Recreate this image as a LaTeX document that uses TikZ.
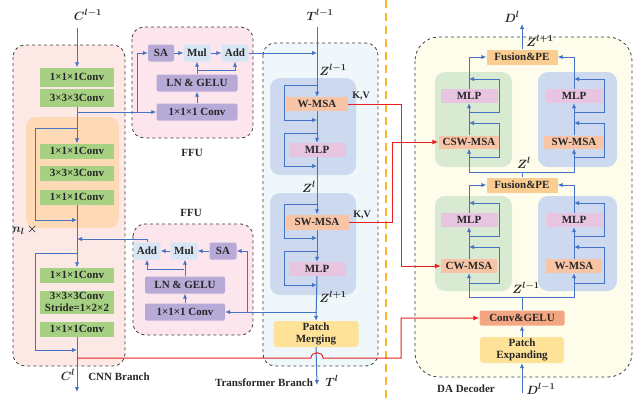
\documentclass[tikz,border=0pt]{standalone}
\usepackage{fontspec}
\setmainfont{Liberation Serif}
\usetikzlibrary{arrows.meta}

\definecolor{txt}{RGB}{38,38,38}
\definecolor{convgreen}{RGB}{166,208,130}
\definecolor{cnnbg}{RGB}{252,233,230}
\definecolor{nbg}{RGB}{253,217,181}
\definecolor{ffubg}{RGB}{252,229,237}
\definecolor{sapurple}{RGB}{183,170,215}
\definecolor{mulblue}{RGB}{214,230,244}
\definecolor{trbg}{RGB}{239,247,251}
\definecolor{blockblue}{RGB}{204,217,238}
\definecolor{msaorange}{RGB}{248,196,166}
\definecolor{mlppink}{RGB}{231,196,223}
\definecolor{patchyellow}{RGB}{254,226,152}
\definecolor{decbg}{RGB}{254,253,236}
\definecolor{greenblock}{RGB}{217,234,211}
\definecolor{fusionorange}{RGB}{250,205,146}
\definecolor{convgelu}{RGB}{244,166,130}
\definecolor{arrowblue}{RGB}{68,114,196}
\definecolor{linered}{RGB}{232,32,32}
\definecolor{splitorange}{RGB}{250,182,40}
\definecolor{dashgray}{RGB}{60,60,60}

\begin{document}
\begin{tikzpicture}[x=1pt,y=-1pt,
  every node/.style={font=\fontsize{11}{11.5}\selectfont\bfseries, text=txt, inner sep=0pt},
  blk/.style={minimum height=15pt},
  conv/.style={blk, fill=convgreen, minimum width=74pt},
  pur/.style={fill=sapurple, rounded corners=2pt, minimum height=17pt},
  lblu/.style={fill=mulblue, rounded corners=2pt, minimum height=17pt, minimum width=27pt},
  msa/.style={blk, fill=msaorange},
  mlp/.style={fill=mlppink, minimum height=14pt, minimum width=57pt},
  ylw/.style={fill=patchyellow, rounded corners=3pt, minimum width=85pt, minimum height=26pt, align=center},
  fus/.style={blk, fill=fusionorange, minimum width=71pt},
  arr/.style={arrowblue, line width=1pt, -{Latex[length=5pt,width=4.5pt]}},
  bline/.style={arrowblue, line width=1pt},
  redarr/.style={linered, line width=1pt, -{Latex[length=6pt,width=5pt]}},
  dbox/.style={draw=dashgray, dashed, line width=0.8pt, rounded corners=12pt},
  lbl/.style={font=\fontsize{12.5}{13}\selectfont\boldmath},
  kv/.style={font=\fontsize{10}{10}\selectfont\bfseries}
]
\useasboundingbox (0,0) rectangle (635,400);

\draw[dbox, fill=cnnbg] (13,45) rectangle (125,366);
\fill[nbg, rounded corners=10pt] (26,117) rectangle (119,228);
\draw[dbox, fill=ffubg] (132,27) rectangle (253,138);
\draw[dbox, fill=ffubg] (133,224) rectangle (253,335);
\draw[dbox, fill=trbg] (263,43) rectangle (378,366);
\fill[blockblue, rounded corners=10pt] (270,78) rectangle (356,175);
\fill[blockblue, rounded corners=10pt] (270,193) rectangle (356,295);
\draw[dbox, fill=decbg, rounded corners=24pt] (415,37) rectangle (632,377);
\fill[greenblock, rounded corners=10pt] (435,72) rectangle (512,167);
\fill[blockblue, rounded corners=10pt] (538,72) rectangle (617,167);
\fill[greenblock, rounded corners=10pt] (435,196) rectangle (512,291);
\fill[blockblue, rounded corners=10pt] (538,196) rectangle (617,291);
\draw[splitorange, line width=1.6pt, dash pattern=on 8pt off 5pt] (386,0) -- (386,400);

% CNN branch
\node[lbl] (cin) at (88,15) {$C^{l-1}$};
\coordinate (cint) at (77,28);
\node[conv, minimum height=19pt] (c1) at (77,77) {1×1×1Conv};
\node[conv, minimum height=18pt] (c2) at (77,98) {3×3×3Conv};
\node[conv] (n1) at (77,151) {1×1×1Conv};
\node[conv] (n2) at (77,173) {3×3×3Conv};
\node[conv] (n3) at (77,197) {1×1×1Conv};
\node[conv] (c3) at (77,275) {1×1×1Conv};
\node[conv, minimum height=23pt, align=center] (c4) at (77,302) {3×3×3Conv\\Stride=1×2×2};
\node[conv] (c5) at (77,329) {1×1×1Conv};
\node[lbl] (nl) at (25,230) {$n_l\,{\times}$};
\node[lbl] (cout) at (68,375) {$C^{l}$};
\node (cnn) at (119,377) {CNN Branch};
\coordinate (b1) at (77,112);
\coordinate (f1) at (137,112);
\coordinate (s1a) at (77,128);
\coordinate (s1b) at (77,220);
\coordinate (j2) at (77,239);
\coordinate (s2a) at (77,253);
\coordinate (s2b) at (77,350);
\coordinate (ce) at (77,392);
\coordinate (rc) at (77,358);

\draw[arr] (cint) -- (c1.north);
\draw[arr] (c2.south) -- (n1.north);
\draw[arr] (s1a) -- ++(-42,0) |- (s1b);
\draw[arr] (n3.south) -- (c3.north);
\draw[arr] (s2a) -- ++(-42,0) |- (s2b);
\draw[arr] (c5.south) -- (ce);

% FFU (top)
\node[pur, minimum width=26pt] (sa1) at (161,53) {SA};
\node[lblu] (mul1) at (197,53) {Mul};
\node[lblu] (add1) at (235,53) {Add};
\node[pur, minimum width=81pt] (ln1) at (197,83) {LN \& GELU};
\node[pur, minimum width=81pt] (cv1) at (197,112) {1×1×1 Conv};
\node (ffu1) at (192,153) {FFU};
\coordinate (g1) at (197,70);
\coordinate (t1) at (317,53);
\draw[arr] (b1) -- (cv1.west);
\draw[arr] (f1) |- (sa1.west);
\draw[arr] (cv1.north) -- (ln1.south);
\draw[arr] (ln1.north) -- (mul1.south);
\draw[arr] (g1) -| (add1.south);
\draw[arr] (sa1.east) -- (mul1.west);
\draw[arr] (mul1.east) -- (add1.west);
\draw[arr] (add1.east) -- (t1);

% FFU (bottom)
\node (ffu2) at (191,213) {FFU};
\node[lblu] (add2) at (147,251) {Add};
\node[lblu] (mul2) at (184,251) {Mul};
\node[pur, minimum width=27pt] (sa2) at (223,251) {SA};
\node[pur, minimum width=80pt] (ln2) at (185,285) {LN \& GELU};
\node[pur, minimum width=80pt] (cv2) at (185,312) {1×1×1 Conv};
\coordinate (t3) at (317,312);
\coordinate (f2) at (247,312);
\coordinate (g2) at (184,269);
\draw[arr] (t3) -- (cv2.east);
\draw[arr] (f2) |- (sa2.east);
\draw[arr] (cv2.north) -- (ln2.south);
\draw[arr] (ln2.north) -- (ln2.north |- mul2.south);
\draw[arr] (g2) -| (add2.south);
\draw[arr] (sa2.west) -- (mul2.east);
\draw[arr] (mul2.west) -- (add2.east);
\draw[arr] (add2.north) |- (j2);

% Transformer branch
\node[lbl] (tin) at (320,15) {$T^{l-1}$};
\coordinate (tt) at (317,27);
\node[lbl] (z0) at (333,70) {$Z^{l-1}$};
\node[msa, minimum width=62pt, minimum height=14pt] (wm1) at (317,104) {W-MSA};
\node[kv] (kv1) at (361,96) {K,V};
\node[mlp] (mp1) at (317,150) {MLP};
\node[lbl] (z1) at (309,187) {$Z^{l}$};
\node[msa, minimum width=63pt] (sw1) at (317,222) {SW-MSA};
\node[kv] (kv2) at (362,215) {K,V};
\node[mlp] (mp2) at (317,269) {MLP};
\node[lbl] (z2) at (333,297) {$Z^{l+1}$};
\node[ylw] (pm) at (316,334) {Patch\\Merging};
\node[lbl] (tout) at (332,381) {$T^{l}$};
\node (tr) at (264,383) {Transformer Branch};
\coordinate (k1a) at (317,85);
\coordinate (k1b) at (317,120);
\coordinate (k2a) at (317,133);
\coordinate (k2b) at (317,166);
\coordinate (k3a) at (317,204);
\coordinate (k3b) at (317,238);
\coordinate (k4a) at (317,251);
\coordinate (k4b) at (317,285);
\coordinate (te) at (317,385);
\draw[arr] (tt) -- (wm1.north);
\draw[arr] (k1a) -- ++(-33,0) |- (k1b);
\draw[arr] (wm1.south) -- (mp1.north);
\draw[arr] (k2a) -- ++(-33,0) |- (k2b);
\draw[arr] (mp1.south) -- (sw1.north);
\draw[arr] (k3a) -- ++(-33,0) |- (k3b);
\draw[arr] (sw1.south) -- (mp2.north);
\draw[arr] (k4a) -- ++(-33,0) |- (k4b);
\draw[arr] (mp2.south) -- (pm.north);
\draw[arr] (pm.south) -- (te);

% DA decoder
\node[lbl] (dout) at (512,17) {$D^{l}$};
\coordinate (de) at (522,24);
\node[lbl] (z5) at (540,41) {$Z^{l+1}$};
\node[fus] (fus1) at (522,57) {Fusion\&PE};
\node[mlp] (mpa) at (469,96) {MLP};
\node[msa, minimum width=61pt, minimum height=13pt] (csw) at (469,142) {CSW-MSA};
\node[mlp] (mpb) at (574,96) {MLP};
\node[msa, minimum width=61pt, minimum height=13pt] (sw2) at (574,142) {SW-MSA};
\node[lbl] (z4) at (524,163) {$Z^{l}$};
\node[fus] (fus2) at (522,185) {Fusion\&PE};
\node[mlp] (mpc) at (469,220) {MLP};
\node[msa, minimum width=56pt, minimum height=14pt] (cw) at (469,266) {CW-MSA};
\node[mlp] (mpd) at (574,220) {MLP};
\node[msa, minimum width=56pt, minimum height=14pt] (wm2) at (574,266) {W-MSA};
\node[lbl] (z3) at (526,288) {$Z^{l-1}$};
\node[blk, fill=convgelu, rounded corners=2pt, minimum width=85pt] (cg) at (522,318) {Conv\&GELU};
\node[ylw, minimum width=84pt] (pe) at (522,350) {Patch\\Expanding};
\node[lbl] (din) at (541,389) {$D^{l-1}$};
\node (dec) at (466,389) {DA Decoder};
\coordinate (ds) at (522,393);
\coordinate (jz) at (522,297);
\coordinate (jl) at (522,172);
\coordinate (d1a) at (469,283);
\coordinate (d1b) at (469,247);
\coordinate (d2a) at (469,236);
\coordinate (d2b) at (469,203);
\coordinate (d3a) at (574,283);
\coordinate (d3b) at (574,247);
\coordinate (d4a) at (574,236);
\coordinate (d4b) at (574,203);
\coordinate (d5a) at (469,157);
\coordinate (d5b) at (469,123);
\coordinate (d6a) at (469,112);
\coordinate (d6b) at (469,79);
\coordinate (d7a) at (574,157);
\coordinate (d7b) at (574,123);
\coordinate (d8a) at (574,112);
\coordinate (d8b) at (574,79);
\draw[arr] (ds) -- (pe.south);
\draw[arr] (pe.north) -- (cg.south);
\draw[bline] (cg.north) -- (jz);
\draw[arr] (jz) -| (cw.south);
\draw[arr] (jz) -| (wm2.south);
\draw[arr] (cw.north) -- (mpc.south);
\draw[arr] (wm2.north) -- (mpd.south);
\draw[arr] (d1a) -- ++(30,0) |- (d1b);
\draw[arr] (d2a) -- ++(30,0) |- (d2b);
\draw[arr] (d3a) -- ++(30,0) |- (d3b);
\draw[arr] (d4a) -- ++(30,0) |- (d4b);
\draw[arr] (mpc.north) |- (fus2.west);
\draw[arr] (mpd.north) |- (fus2.east);
\draw[bline] (fus2.north) -- (jl);
\draw[arr] (jl) -| (csw.south);
\draw[arr] (jl) -| (sw2.south);
\draw[arr] (csw.north) -- (mpa.south);
\draw[arr] (sw2.north) -- (mpb.south);
\draw[arr] (d5a) -- ++(30,0) |- (d5b);
\draw[arr] (d6a) -- ++(30,0) |- (d6b);
\draw[arr] (d7a) -- ++(30,0) |- (d7b);
\draw[arr] (d8a) -- ++(30,0) |- (d8b);
\draw[arr] (mpa.north) |- (fus1.west);
\draw[arr] (mpb.north) |- (fus1.east);
\draw[arr] (fus1.north) -- (de);

% K,V and CNN feature links
\coordinate (r1) at (401,266);
\coordinate (r2) at (392,142);
\coordinate (rb1) at (311,358);
\coordinate (rb2) at (323,358);
\coordinate (rv) at (401,358);
\draw[redarr] (wm1.east) -| (r1) -- (cw.west);
\draw[redarr] (sw1.east) -| (r2) -- (csw.west);
\draw[redarr] (rc) -- (rb1) .. controls (311,351) and (323,351) .. (rb2) -- (rv) |- (cg.west);
\end{tikzpicture}
\end{document}
